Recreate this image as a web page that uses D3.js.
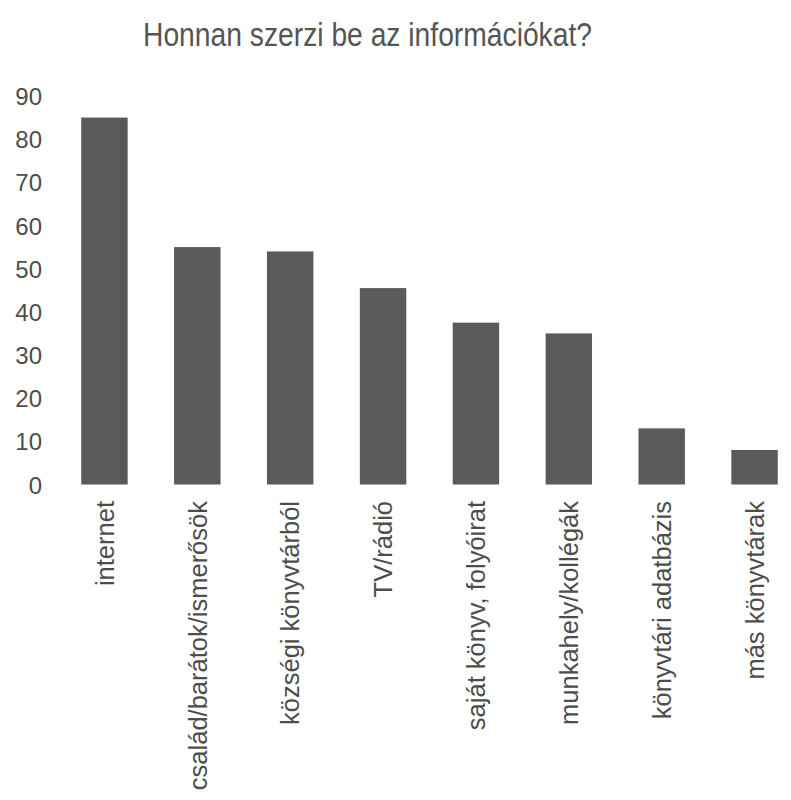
<!DOCTYPE html>
<html>
<head>
<meta charset="utf-8">
<script src="https://cdn.jsdelivr.net/npm/d3@7"></script>
<style>
  html, body { margin: 0; padding: 0; background: #fff; }
  svg { display: block; font-family: "Liberation Sans", Arial, sans-serif; }
</style>
</head>
<body>
<svg id="chart" width="791" height="800"></svg>
<script>
const title = "Honnan szerzi be az információkat?";
const categories = ["internet", "család/barátok/ismerősök", "községi könyvtárból", "TV/rádió",
  "saját könyv, folyóirat", "munkahely/kollégák", "könyvtári adatbázis", "más könyvtárak"];
const values = [85, 55, 54, 45.5, 37.5, 35, 13, 8];
const yTicks = [0, 10, 20, 30, 40, 50, 60, 70, 80, 90];

const svg = d3.select("#chart");
const textColor = "#4d4d4d";
const barColor = "#5a5a5a";

const x = d3.scaleBand().domain(categories).range([58, 801]).paddingInner(0.5).paddingOuter(0.25);
const y = d3.scaleLinear().domain([0, 90]).range([484.5, 96]);

// title
svg.append("text")
  .attr("x", 367.5).attr("y", 46)
  .attr("text-anchor", "middle")
  .attr("font-size", 34)
  .attr("fill", "#555")
  .attr("textLength", 449)
  .attr("lengthAdjust", "spacingAndGlyphs")
  .text(title);

// y axis
const yAxis = d3.axisLeft(y).tickValues(yTicks).tickSize(0).tickPadding(0);
const gy = svg.append("g").attr("transform", "translate(42,0)").call(yAxis);
gy.select(".domain").remove();
gy.selectAll("text").attr("font-size", 24).attr("fill", textColor)
  .attr("font-family", "Liberation Sans, Arial, sans-serif").attr("dy", "0.36em");

// bars
svg.append("g").selectAll("rect").data(values).join("rect")
  .attr("x", (d, i) => x(categories[i]))
  .attr("width", x.bandwidth())
  .attr("y", d => y(d))
  .attr("height", d => y(0) - y(d))
  .attr("fill", barColor);

// x axis labels
const xAxis = d3.axisBottom(x).tickSize(0).tickPadding(0);
const gx = svg.append("g").attr("transform", "translate(0,501)").call(xAxis);
gx.select(".domain").remove();
gx.selectAll("text")
  .attr("font-size", 25.5).attr("fill", textColor)
  .attr("font-family", "Liberation Sans, Arial, sans-serif")
  .attr("text-anchor", "end")
  .attr("transform", "rotate(-90)")
  .attr("x", 0).attr("y", 0).attr("dy", "0.36em");
</script>
</body>
</html>
